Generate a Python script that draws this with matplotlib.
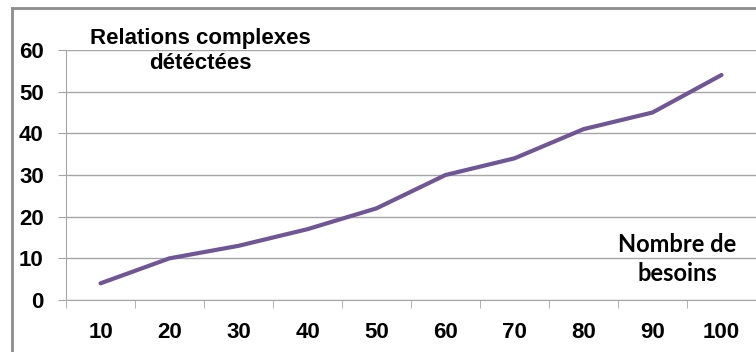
import matplotlib.pyplot as plt
import numpy as np

plt.rcParams['font.family'] = ['Liberation Sans', 'DejaVu Sans']

categories = ['10', '20', '30', '40', '50', '60', '70', '80', '90', '100']
relations = [4, 10, 13, 17, 22, 30, 34, 41, 45, 54]
yticks = [0, 10, 20, 30, 40, 50, 60]

fig = plt.figure(figsize=(7.56, 3.52), dpi=100)
# outer chart border (only top/left visible)
fig.add_artist(plt.Line2D([12/756, 12/756], [0, 1 - 8/352], color='#8c8c8c', lw=2))
fig.add_artist(plt.Line2D([12/756, 1], [1 - 8/352, 1 - 8/352], color='#8c8c8c', lw=2))

ax = fig.add_axes([66/756, 52/352, 690/756, 250/352])
x = np.arange(len(categories))
ax.plot(x, relations, color='#6f5795', lw=3, solid_capstyle='round', solid_joinstyle='round')

ax.set_xlim(-0.5, len(categories) - 0.5)
ax.set_ylim(0, 60)
ax.set_yticks(yticks)
ax.set_yticklabels([str(t) for t in yticks], fontsize=16, fontweight='bold')
ax.yaxis.grid(True, color='#a6a6a6', lw=1)
ax.set_axisbelow(True)

ax.set_xticks(x)
ax.set_xticklabels(categories, fontsize=16, fontweight='bold')
ax.set_xticks(np.arange(-0.5, len(categories)), minor=True)
ax.tick_params(axis='x', which='major', length=0, pad=16)
ax.tick_params(axis='x', which='minor', length=6, color='#a6a6a6')
ax.tick_params(axis='y', length=6, color='#a6a6a6', pad=10)

for s in ['top', 'right']:
    ax.spines[s].set_visible(False)
ax.spines['left'].set_color('#a6a6a6')
ax.spines['bottom'].set_color('#a6a6a6')

fig.text(200/756, 1 - 51/352, 'Relations complexes\ndétéctées', ha='center', va='center',
         fontsize=16, fontweight='bold', linespacing=1.25)
fig.text(677/756, 1 - 259/352, 'Nombre de\nbesoins', ha='center', va='center',
         fontsize=17, fontweight='bold', family=['Lato', 'DejaVu Sans'], linespacing=1.3)

fig.savefig('out.png', dpi=100)
